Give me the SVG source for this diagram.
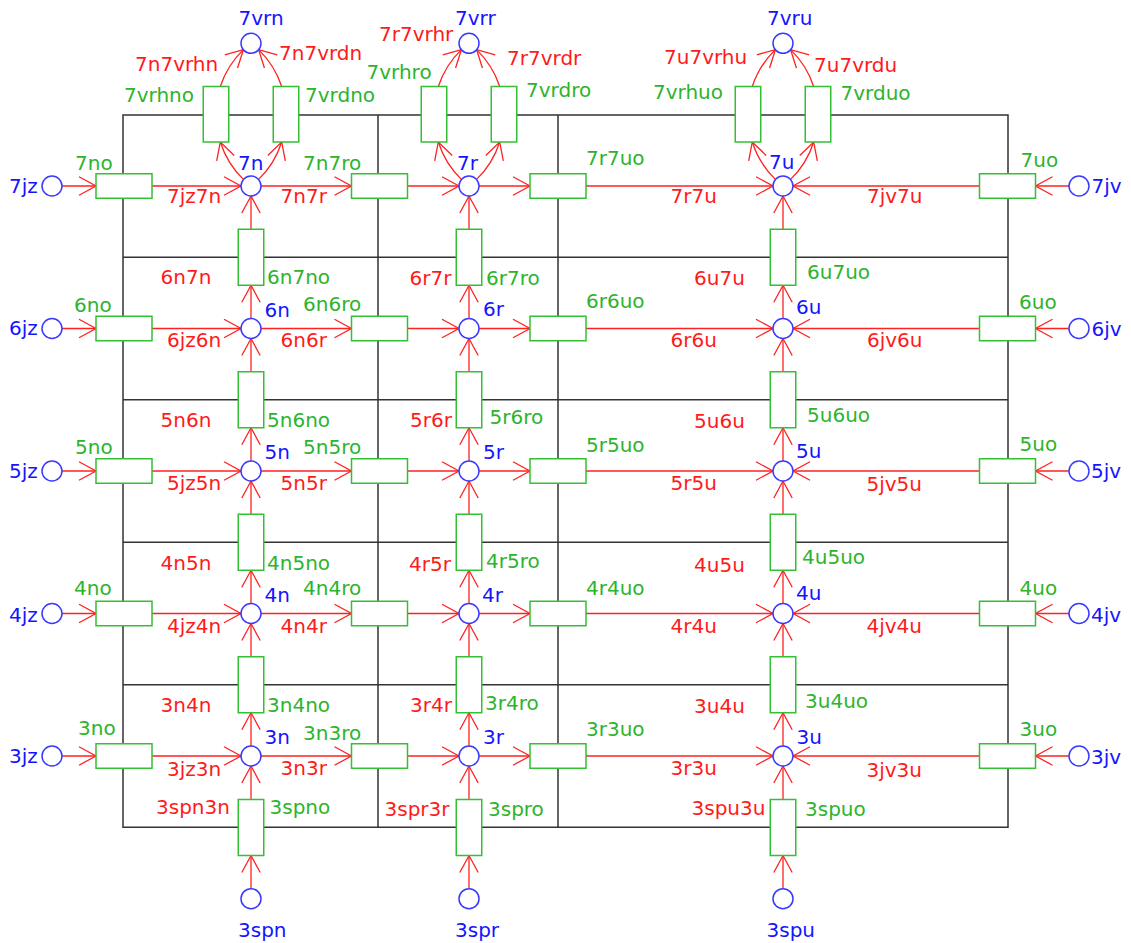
<svg xmlns="http://www.w3.org/2000/svg" width="1131" height="943" viewBox="0 0 1131 943">
<style>
text{font-family:"DejaVu Sans","Liberation Sans",sans-serif;font-size:20px}
.tb{fill:#1414ff}.tr{fill:#ff1a1a}.tg{fill:#2db42d}
.g{stroke:#333;stroke-width:1.5;fill:none}
.e{stroke:#ff2020;stroke-width:1.3;fill:none;marker-end:url(#a)}
.o{fill:#fff;stroke:#33c033;stroke-width:1.5}
.c{fill:#fff;stroke:#3a3aff;stroke-width:1.5}
</style>
<defs>
<marker id="a" markerUnits="userSpaceOnUse" markerWidth="22" markerHeight="22" refX="18" refY="10" orient="auto" overflow="visible">
<path d="M1,0.8 L18,10 L1,19.2" fill="none" stroke="#ff2020" stroke-width="1.3"/>
</marker>
</defs>
<rect width="1131" height="943" fill="#fff"/>
<g id="grid">
<path class="g" d="M123,115H1008V827.25H123Z M123,257.25H1008 M123,399.75H1008 M123,542.25H1008 M123,684.75H1008 M378,115V827.25 M558,115V827.25"/>
</g>
<g id="connectors">
<!-- horizontal rows -->
<path class="e" d="M62,186H96"/><path class="e" d="M152,186H241"/><path class="e" d="M261,186H351.5"/><path class="e" d="M407.5,186H459"/><path class="e" d="M479,186H530"/><path class="e" d="M586,186H773"/><path class="e" d="M1069,186H1035.5"/><path class="e" d="M979.5,186H793"/>
<path class="e" d="M62,328.5H96"/><path class="e" d="M152,328.5H241"/><path class="e" d="M261,328.5H351.5"/><path class="e" d="M407.5,328.5H459"/><path class="e" d="M479,328.5H530"/><path class="e" d="M586,328.5H773"/><path class="e" d="M1069,328.5H1035.5"/><path class="e" d="M979.5,328.5H793"/>
<path class="e" d="M62,471H96"/><path class="e" d="M152,471H241"/><path class="e" d="M261,471H351.5"/><path class="e" d="M407.5,471H459"/><path class="e" d="M479,471H530"/><path class="e" d="M586,471H773"/><path class="e" d="M1069,471H1035.5"/><path class="e" d="M979.5,471H793"/>
<path class="e" d="M62,613.5H96"/><path class="e" d="M152,613.5H241"/><path class="e" d="M261,613.5H351.5"/><path class="e" d="M407.5,613.5H459"/><path class="e" d="M479,613.5H530"/><path class="e" d="M586,613.5H773"/><path class="e" d="M1069,613.5H1035.5"/><path class="e" d="M979.5,613.5H793"/>
<path class="e" d="M62,756H96"/><path class="e" d="M152,756H241"/><path class="e" d="M261,756H351.5"/><path class="e" d="M407.5,756H459"/><path class="e" d="M479,756H530"/><path class="e" d="M586,756H773"/><path class="e" d="M1069,756H1035.5"/><path class="e" d="M979.5,756H793"/>
<!-- vertical columns -->
<path class="e" d="M251,318.5V285.25"/><path class="e" d="M251,229.25V196"/><path class="e" d="M251,461V427.75"/><path class="e" d="M251,371.75V338.5"/><path class="e" d="M251,603.5V570.25"/><path class="e" d="M251,514.25V481"/><path class="e" d="M251,746V712.75"/><path class="e" d="M251,656.75V623.5"/><path class="e" d="M251,888.5V855.5"/><path class="e" d="M251,799.5V766"/>
<path class="e" d="M469,318.5V285.25"/><path class="e" d="M469,229.25V196"/><path class="e" d="M469,461V427.75"/><path class="e" d="M469,371.75V338.5"/><path class="e" d="M469,603.5V570.25"/><path class="e" d="M469,514.25V481"/><path class="e" d="M469,746V712.75"/><path class="e" d="M469,656.75V623.5"/><path class="e" d="M469,888.5V855.5"/><path class="e" d="M469,799.5V766"/>
<path class="e" d="M783,318.5V285.25"/><path class="e" d="M783,229.25V196"/><path class="e" d="M783,461V427.75"/><path class="e" d="M783,371.75V338.5"/><path class="e" d="M783,603.5V570.25"/><path class="e" d="M783,514.25V481"/><path class="e" d="M783,746V712.75"/><path class="e" d="M783,656.75V623.5"/><path class="e" d="M783,888.5V855.5"/><path class="e" d="M783,799.5V766"/>
<!-- top arcs -->
<path class="e" d="M243.4,179.4A90.5,90.5 0 0 1 220.3,142"/><path class="e" d="M220.3,86.5A90.5,90.5 0 0 1 243.4,49.6"/><path class="e" d="M258.6,179.4A90.5,90.5 0 0 0 281.7,142"/><path class="e" d="M281.7,86.5A90.5,90.5 0 0 0 258.6,49.6"/>
<path class="e" d="M461.4,179.4A90.5,90.5 0 0 1 438.3,142"/><path class="e" d="M438.3,86.5A90.5,90.5 0 0 1 461.4,49.6"/><path class="e" d="M476.6,179.4A90.5,90.5 0 0 0 499.7,142"/><path class="e" d="M499.7,86.5A90.5,90.5 0 0 0 476.6,49.6"/>
<path class="e" d="M775.4,179.4A90.5,90.5 0 0 1 752.3,142"/><path class="e" d="M752.3,86.5A90.5,90.5 0 0 1 775.4,49.6"/><path class="e" d="M790.6,179.4A90.5,90.5 0 0 0 813.7,142"/><path class="e" d="M813.7,86.5A90.5,90.5 0 0 0 790.6,49.6"/>
<!-- edge labels -->
<g class="tr">
<text x="135" y="71">7n7vrhn</text><text x="279" y="59.5">7n7vrdn</text><text x="379" y="41">7r7vrhr</text><text x="507" y="65">7r7vrdr</text><text x="664" y="63.5">7u7vrhu</text><text x="814" y="71.5">7u7vrdu</text>
<text x="167" y="203">7jz7n</text><text x="280.5" y="203">7n7r</text><text x="670.5" y="203">7r7u</text><text x="867" y="203">7jv7u</text>
<text x="160.5" y="283.5">6n7n</text><text x="409.5" y="285">6r7r</text><text x="694" y="285">6u7u</text>
<text x="167" y="346.5">6jz6n</text><text x="280.5" y="346.5">6n6r</text><text x="670.5" y="346.5">6r6u</text><text x="867" y="346.5">6jv6u</text>
<text x="160.5" y="426.5">5n6n</text><text x="410" y="426.5">5r6r</text><text x="694" y="428">5u6u</text>
<text x="167" y="490">5jz5n</text><text x="280.5" y="490">5n5r</text><text x="670.5" y="490">5r5u</text><text x="866.5" y="490.5">5jv5u</text>
<text x="160.5" y="570">4n5n</text><text x="409" y="570.5">4r5r</text><text x="694" y="571.5">4u5u</text>
<text x="167" y="633">4jz4n</text><text x="280.5" y="633">4n4r</text><text x="670.5" y="632.5">4r4u</text><text x="866.5" y="632.5">4jv4u</text>
<text x="160.5" y="712">3n4n</text><text x="410" y="712">3r4r</text><text x="694" y="713">3u4u</text>
<text x="167" y="775.5">3jz3n</text><text x="280.5" y="775">3n3r</text><text x="670.5" y="775">3r3u</text><text x="866.5" y="776.5">3jv3u</text>
<text x="156" y="814">3spn3n</text><text x="384.5" y="816">3spr3r</text><text x="691.5" y="815">3spu3u</text>
</g>
</g>
<!-- top vr nodes -->
<g id="n7vrn"><circle class="c" cx="251" cy="43.3" r="10"/><text class="tb" x="238.5" y="25">7vrn</text></g>
<g id="n7vrr"><circle class="c" cx="469" cy="43.3" r="10"/><text class="tb" x="455" y="25">7vrr</text></g>
<g id="n7vru"><circle class="c" cx="783" cy="43.3" r="10"/><text class="tb" x="767" y="25">7vru</text></g>
<g id="o7vrhno"><rect class="o" x="203.25" y="86.5" width="25.5" height="55.5"/><text class="tg" x="124" y="101.5">7vrhno</text></g>
<g id="o7vrdno"><rect class="o" x="273.25" y="86.5" width="25.5" height="55.5"/><text class="tg" x="305" y="101.5">7vrdno</text></g>
<g id="o7vrhro"><rect class="o" x="421.25" y="86.5" width="25.5" height="55.5"/><text class="tg" x="366.5" y="78.5">7vrhro</text></g>
<g id="o7vrdro"><rect class="o" x="491.25" y="86.5" width="25.5" height="55.5"/><text class="tg" x="526" y="96.5">7vrdro</text></g>
<g id="o7vrhuo"><rect class="o" x="735.25" y="86.5" width="25.5" height="55.5"/><text class="tg" x="653" y="99">7vrhuo</text></g>
<g id="o7vrduo"><rect class="o" x="805.25" y="86.5" width="25.5" height="55.5"/><text class="tg" x="840.5" y="100">7vrduo</text></g>
<!-- row 7 -->
<g id="n7jz"><circle class="c" cx="52" cy="186" r="10"/><text class="tb" x="9" y="193">7jz</text></g>
<g id="o7no"><rect class="o" x="96" y="173.75" width="56" height="24.5"/><text class="tg" x="75" y="170">7no</text></g>
<g id="n7n"><circle class="c" cx="251" cy="186" r="10"/><text class="tb" x="238" y="170">7n</text></g>
<g id="o7n7ro"><rect class="o" x="351.5" y="173.75" width="56" height="24.5"/><text class="tg" x="303" y="170">7n7ro</text></g>
<g id="n7r"><circle class="c" cx="469" cy="186" r="10"/><text class="tb" x="457" y="170">7r</text></g>
<g id="o7r7uo"><rect class="o" x="530" y="173.75" width="56" height="24.5"/><text class="tg" x="586" y="165">7r7uo</text></g>
<g id="n7u"><circle class="c" cx="783" cy="186" r="10"/><text class="tb" x="769" y="168.5">7u</text></g>
<g id="o7uo"><rect class="o" x="979.5" y="173.75" width="56" height="24.5"/><text class="tg" x="1020.5" y="167">7uo</text></g>
<g id="n7jv"><circle class="c" cx="1079" cy="186" r="10"/><text class="tb" x="1091.5" y="193">7jv</text></g>
<!-- row 6 -->
<g id="o6n7no"><rect class="o" x="238.25" y="229.25" width="25.5" height="56"/><text class="tg" x="267" y="284">6n7no</text></g>
<g id="o6r7ro"><rect class="o" x="456.25" y="229.25" width="25.5" height="56"/><text class="tg" x="486" y="285">6r7ro</text></g>
<g id="o6u7uo"><rect class="o" x="770.25" y="229.25" width="25.5" height="56"/><text class="tg" x="807" y="279">6u7uo</text></g>
<g id="n6jz"><circle class="c" cx="52" cy="328.5" r="10"/><text class="tb" x="9" y="335">6jz</text></g>
<g id="o6no"><rect class="o" x="96" y="316.25" width="56" height="24.5"/><text class="tg" x="74" y="311.5">6no</text></g>
<g id="n6n"><circle class="c" cx="251" cy="328.5" r="10"/><text class="tb" x="264.5" y="316.5">6n</text></g>
<g id="o6n6ro"><rect class="o" x="351.5" y="316.25" width="56" height="24.5"/><text class="tg" x="303" y="311">6n6ro</text></g>
<g id="n6r"><circle class="c" cx="469" cy="328.5" r="10"/><text class="tb" x="483" y="316">6r</text></g>
<g id="o6r6uo"><rect class="o" x="530" y="316.25" width="56" height="24.5"/><text class="tg" x="586" y="307.5">6r6uo</text></g>
<g id="n6u"><circle class="c" cx="783" cy="328.5" r="10"/><text class="tb" x="796" y="313.5">6u</text></g>
<g id="o6uo"><rect class="o" x="979.5" y="316.25" width="56" height="24.5"/><text class="tg" x="1019" y="309">6uo</text></g>
<g id="n6jv"><circle class="c" cx="1079" cy="328.5" r="10"/><text class="tb" x="1091.5" y="336">6jv</text></g>
<!-- row 5 -->
<g id="o5n6no"><rect class="o" x="238.25" y="371.75" width="25.5" height="56"/><text class="tg" x="267" y="427">5n6no</text></g>
<g id="o5r6ro"><rect class="o" x="456.25" y="371.75" width="25.5" height="56"/><text class="tg" x="489.5" y="423.5">5r6ro</text></g>
<g id="o5u6uo"><rect class="o" x="770.25" y="371.75" width="25.5" height="56"/><text class="tg" x="807" y="421.5">5u6uo</text></g>
<g id="n5jz"><circle class="c" cx="52" cy="471" r="10"/><text class="tb" x="9" y="477.5">5jz</text></g>
<g id="o5no"><rect class="o" x="96" y="458.75" width="56" height="24.5"/><text class="tg" x="75" y="454">5no</text></g>
<g id="n5n"><circle class="c" cx="251" cy="471" r="10"/><text class="tb" x="264.5" y="458.5">5n</text></g>
<g id="o5n5ro"><rect class="o" x="351.5" y="458.75" width="56" height="24.5"/><text class="tg" x="303" y="453.5">5n5ro</text></g>
<g id="n5r"><circle class="c" cx="469" cy="471" r="10"/><text class="tb" x="483" y="458.5">5r</text></g>
<g id="o5r5uo"><rect class="o" x="530" y="458.75" width="56" height="24.5"/><text class="tg" x="586" y="451.5">5r5uo</text></g>
<g id="n5u"><circle class="c" cx="783" cy="471" r="10"/><text class="tb" x="796" y="457.5">5u</text></g>
<g id="o5uo"><rect class="o" x="979.5" y="458.75" width="56" height="24.5"/><text class="tg" x="1019.5" y="451">5uo</text></g>
<g id="n5jv"><circle class="c" cx="1079" cy="471" r="10"/><text class="tb" x="1091" y="478">5jv</text></g>
<!-- row 4 -->
<g id="o4n5no"><rect class="o" x="238.25" y="514.25" width="25.5" height="56"/><text class="tg" x="267" y="570">4n5no</text></g>
<g id="o4r5ro"><rect class="o" x="456.25" y="514.25" width="25.5" height="56"/><text class="tg" x="486" y="567.5">4r5ro</text></g>
<g id="o4u5uo"><rect class="o" x="770.25" y="514.25" width="25.5" height="56"/><text class="tg" x="802" y="564">4u5uo</text></g>
<g id="n4jz"><circle class="c" cx="52" cy="613.5" r="10"/><text class="tb" x="9" y="621.5">4jz</text></g>
<g id="o4no"><rect class="o" x="96" y="601.25" width="56" height="24.5"/><text class="tg" x="74" y="595">4no</text></g>
<g id="n4n"><circle class="c" cx="251" cy="613.5" r="10"/><text class="tb" x="264.5" y="601.5">4n</text></g>
<g id="o4n4ro"><rect class="o" x="351.5" y="601.25" width="56" height="24.5"/><text class="tg" x="303" y="595">4n4ro</text></g>
<g id="n4r"><circle class="c" cx="469" cy="613.5" r="10"/><text class="tb" x="482" y="601.5">4r</text></g>
<g id="o4r4uo"><rect class="o" x="530" y="601.25" width="56" height="24.5"/><text class="tg" x="586" y="594.5">4r4uo</text></g>
<g id="n4u"><circle class="c" cx="783" cy="613.5" r="10"/><text class="tb" x="796" y="600">4u</text></g>
<g id="o4uo"><rect class="o" x="979.5" y="601.25" width="56" height="24.5"/><text class="tg" x="1019.5" y="594.5">4uo</text></g>
<g id="n4jv"><circle class="c" cx="1079" cy="613.5" r="10"/><text class="tb" x="1091" y="621.5">4jv</text></g>
<!-- row 3 -->
<g id="o3n4no"><rect class="o" x="238.25" y="656.75" width="25.5" height="56"/><text class="tg" x="267" y="712">3n4no</text></g>
<g id="o3r4ro"><rect class="o" x="456.25" y="656.75" width="25.5" height="56"/><text class="tg" x="485" y="710">3r4ro</text></g>
<g id="o3u4uo"><rect class="o" x="770.25" y="656.75" width="25.5" height="56"/><text class="tg" x="805" y="707.5">3u4uo</text></g>
<g id="n3jz"><circle class="c" cx="52" cy="756" r="10"/><text class="tb" x="9" y="763">3jz</text></g>
<g id="o3no"><rect class="o" x="96" y="743.75" width="56" height="24.5"/><text class="tg" x="78" y="734.5">3no</text></g>
<g id="n3n"><circle class="c" cx="251" cy="756" r="10"/><text class="tb" x="264.5" y="743.5">3n</text></g>
<g id="o3n3ro"><rect class="o" x="351.5" y="743.75" width="56" height="24.5"/><text class="tg" x="303" y="740">3n3ro</text></g>
<g id="n3r"><circle class="c" cx="469" cy="756" r="10"/><text class="tb" x="483" y="743.5">3r</text></g>
<g id="o3r3uo"><rect class="o" x="530" y="743.75" width="56" height="24.5"/><text class="tg" x="586" y="736">3r3uo</text></g>
<g id="n3u"><circle class="c" cx="783" cy="756" r="10"/><text class="tb" x="796.5" y="743.5">3u</text></g>
<g id="o3uo"><rect class="o" x="979.5" y="743.75" width="56" height="24.5"/><text class="tg" x="1019.5" y="736">3uo</text></g>
<g id="n3jv"><circle class="c" cx="1079" cy="756" r="10"/><text class="tb" x="1091" y="763.5">3jv</text></g>
<!-- bottom -->
<g id="o3spno"><rect class="o" x="238.25" y="799.5" width="25.5" height="56"/><text class="tg" x="269.5" y="813.5">3spno</text></g>
<g id="o3spro"><rect class="o" x="456.25" y="799.5" width="25.5" height="56"/><text class="tg" x="488" y="816">3spro</text></g>
<g id="o3spuo"><rect class="o" x="770.25" y="799.5" width="25.5" height="56"/><text class="tg" x="805" y="816">3spuo</text></g>
<g id="n3spn"><circle class="c" cx="251" cy="898.7" r="10"/><text class="tb" x="238" y="937">3spn</text></g>
<g id="n3spr"><circle class="c" cx="469" cy="898.7" r="10"/><text class="tb" x="455" y="937">3spr</text></g>
<g id="n3spu"><circle class="c" cx="783" cy="898.7" r="10"/><text class="tb" x="766.5" y="937">3spu</text></g>
</svg>
